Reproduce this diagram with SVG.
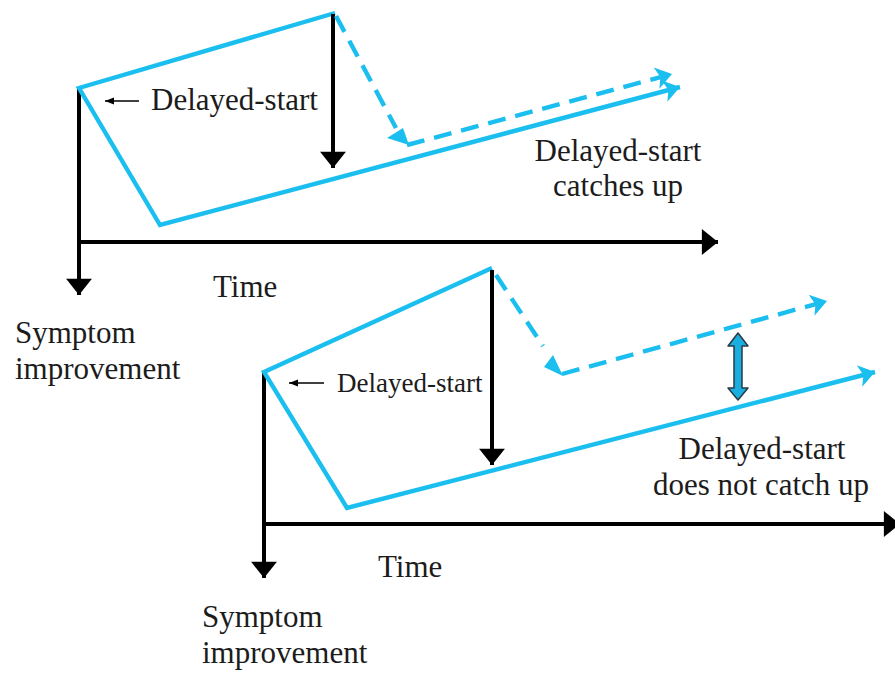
<svg xmlns="http://www.w3.org/2000/svg" width="895" height="673" viewBox="0 0 895 673">
  <defs>
    <style>
      .cy { fill: none; stroke: #1bbfef; stroke-width: 4.4; stroke-linejoin: miter; }
      .dash { stroke-dasharray: 18 10; }
      .ax { fill: none; stroke: #000; stroke-width: 4; }
      .thin { fill: none; stroke: #000; stroke-width: 1.6; }
      .hd { fill: #1bbfef; }
      .kh { fill: #000; }
      text { font-family: "Liberation Serif", "Times New Roman", serif; fill: #1c1c1c; }
      .big { font-size: 31px; }
      .sm { font-size: 27px; }
    </style>
    <marker id="cyArrow" markerUnits="userSpaceOnUse" markerWidth="24" markerHeight="26" refX="16" refY="0" viewBox="-2 -13 20 26" orient="auto">
      <path d="M0,-11 L16,0 L0,11 L4,0 z" class="hd"/>
    </marker>
    <marker id="kArrow" markerUnits="userSpaceOnUse" markerWidth="20" markerHeight="28" refX="15" refY="0" viewBox="-1 -13 17 26" orient="auto">
      <path d="M0,-12 L15,0 L0,12 z" class="kh"/>
    </marker>
    <marker id="smArrow" markerUnits="userSpaceOnUse" markerWidth="12" markerHeight="10" refX="9" refY="0" viewBox="-1 -5 11 10" orient="auto">
      <path d="M0,-3.5 L9,0 L0,3.5 z" class="kh"/>
    </marker>
  </defs>

  <!-- upper chart: delayed start catches up -->
  <g id="axes-top">
    <line class="ax" x1="79" y1="87" x2="79" y2="295" marker-end="url(#kArrow)"/>
    <line class="ax" x1="77" y1="242" x2="718" y2="242" marker-end="url(#kArrow)"/>
  </g>
  <g id="connectors-top">
    <polyline class="cy" points="335,13 79,88 160,225 680,87" marker-end="url(#cyArrow)"/>
    <line class="ax" x1="333" y1="14" x2="333" y2="168" marker-end="url(#kArrow)"/>
    <line class="cy dash" x1="336" y1="16" x2="396" y2="128"/>
    <polygon class="hd" points="387,138 403,128 409,145"/>
    <line class="cy dash" x1="407" y1="145" x2="672" y2="74" marker-end="url(#cyArrow)"/>
    <line class="thin" x1="139" y1="101" x2="105" y2="101" marker-end="url(#smArrow)"/>
  </g>
  <g id="labels-top">
    <text class="big" x="151" y="110">Delayed-start</text>
    <text class="big" x="618" y="161" text-anchor="middle">Delayed-start</text>
    <text class="big" x="618" y="196" text-anchor="middle">catches up</text>
    <text class="big" x="213" y="297">Time</text>
    <text class="big" x="15" y="343">Symptom</text>
    <text class="big" x="15" y="379">improvement</text>
  </g>

  <!-- lower chart: delayed start does not catch up -->
  <g id="axes-bottom">
    <line class="ax" x1="264" y1="371" x2="264" y2="578" marker-end="url(#kArrow)"/>
    <line class="ax" x1="262" y1="524" x2="900" y2="524" marker-end="url(#kArrow)"/>
  </g>
  <g id="connectors-bottom">
    <polyline class="cy" points="492,268 264,372 347,508 875,372" marker-end="url(#cyArrow)"/>
    <line class="ax" x1="492" y1="270" x2="492" y2="465" marker-end="url(#kArrow)"/>
    <line class="cy dash" x1="496" y1="275" x2="543" y2="346"/>
    <polygon class="hd" points="544,367 553,355 563,376"/>
    <line class="cy dash" x1="562" y1="374" x2="827" y2="301" marker-end="url(#cyArrow)"/>
    <line class="thin" x1="324" y1="383" x2="289" y2="383" marker-end="url(#smArrow)"/>
    <polygon id="gap" points="738,333 748,346 742,346 742,388 748,388 738,400 728,388 734,388 734,346 728,346" fill="#1aaee0" stroke="#2a3a44" stroke-width="1.5" stroke-linejoin="round"/>
  </g>
  <g id="labels-bottom">
    <text class="sm" x="337" y="392">Delayed-start</text>
    <text class="big" x="762" y="459" text-anchor="middle">Delayed-start</text>
    <text class="big" x="761" y="495" text-anchor="middle">does not catch up</text>
    <text class="big" x="378" y="577">Time</text>
    <text class="big" x="202" y="627">Symptom</text>
    <text class="big" x="202" y="663">improvement</text>
  </g>
</svg>
